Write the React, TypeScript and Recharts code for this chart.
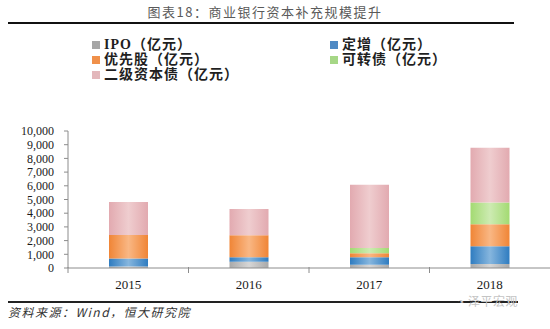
import React from 'react';
import { BarChart, Bar, XAxis, YAxis, Legend } from 'recharts';

const years = ['2015', '2016', '2017', '2018'];
const ipo = [110, 460, 230, 285];
const dingzeng = [590, 330, 560, 1310];
const preferred = [1700, 1600, 290, 1600];
const convertible = [0, 0, 380, 1585];
const tier2 = [2425, 1910, 4610, 4005];
const yTicks = [0, 1000, 2000, 3000, 4000, 5000, 6000, 7000, 8000, 9000, 10000];

const SERIES = [
  { key: 'ipo', label: 'IPO（亿元）', swatch: '#a6a6a6', edge: '#a9a9a9', mid: '#d6d6d6' },
  { key: 'dingzeng', label: '定增（亿元）', swatch: '#4f8ac4', edge: '#2f7cc0', mid: '#86b6de' },
  { key: 'preferred', label: '优先股（亿元）', swatch: '#f0904a', edge: '#f08536', mid: '#f9b784' },
  { key: 'convertible', label: '可转债（亿元）', swatch: '#a6d786', edge: '#a3da72', mid: '#cdebb2' },
  { key: 'tier2', label: '二级资本债（亿元）', swatch: '#e3b7bb', edge: '#e2aab0', mid: '#efcdcf' },
];

const data = years.map((year, i) => ({
  year,
  ipo: ipo[i],
  dingzeng: dingzeng[i],
  preferred: preferred[i],
  convertible: convertible[i],
  tier2: tier2[i],
}));

const serif = "'Liberation Serif', 'Noto Sans CJK SC', serif";
const cjk = "'Noto Sans CJK SC', sans-serif";

const CategoryTick = (props: any) => {
  const { x, y, payload } = props;
  const half = payload?.offset ?? 60;
  return (
    <g>
      <line x1={x - half} x2={x - half} y1={y - 1} y2={y + 5} stroke="#8c8c8c" />
      <text x={x} y={y + 21} textAnchor="middle" fontFamily={serif} fontSize={13} fill="#1a1a1a">
        {payload.value}
      </text>
    </g>
  );
};

const LegendBox = () => (
  <div
    style={{
      display: 'grid',
      gridTemplateColumns: '238px auto',
      rowGap: 0,
      fontFamily: serif,
      fontWeight: 'bold',
      fontSize: 14,
      letterSpacing: 1,
      color: '#1f1f1f',
      lineHeight: '15px',
    }}
  >
    {SERIES.map(s => (
      <div key={s.key} style={{ display: 'flex', alignItems: 'center' }}>
        <span style={{ width: 8, height: 8, background: s.swatch, marginRight: 4, display: 'inline-block' }} />
        <span>{s.label}</span>
      </div>
    ))}
  </div>
);

export default function App() {
  return (
    <div style={{ position: 'absolute', left: 0, top: 0, width: 550, height: 329, background: '#fff', overflow: 'hidden' }}>
      <div
        style={{
          position: 'absolute', left: 0, width: 530, top: 2, textAlign: 'center',
          fontFamily: cjk, fontSize: 13, letterSpacing: 1.5, color: '#5a5a5a',
        }}
      >
        图表18：商业银行资本补充规模提升
      </div>
      <div style={{ position: 'absolute', left: 8, top: 22, width: 506, height: 2, background: '#111' }} />

      <BarChart
        width={550}
        height={329}
        data={data}
        margin={{ top: 86, right: 0, left: 0, bottom: 30 }}
        barSize={39}
      >
        <Legend
          verticalAlign="top"
          content={<LegendBox />}
          wrapperStyle={{ position: 'absolute', top: 37, left: 92, width: 420 }}
        />
        <XAxis
          dataKey="year"
          height={31}
          axisLine={{ stroke: '#8c8c8c' }}
          tickLine={false}
          tickSize={0}
          tickMargin={0}
          tick={<CategoryTick />}
          interval={0}
        />
        <YAxis
          width={68}
          domain={[0, 10000]}
          ticks={yTicks}
          interval={0}
          axisLine={{ stroke: '#8c8c8c' }}
          tickLine={{ stroke: '#8c8c8c' }}
          tickSize={4}
          tickMargin={10}
          tick={{ fontFamily: serif, fontSize: 12, fill: '#1a1a1a' }}
          tickFormatter={(v: number) => v.toLocaleString('en-US')}
        />
        <defs>
          {SERIES.map(s => (
            <linearGradient key={s.key} id={`grad-${s.key}`} x1="0" y1="0" x2="1" y2="0">
              <stop offset="0%" stopColor={s.edge} />
              <stop offset="50%" stopColor={s.mid} />
              <stop offset="100%" stopColor={s.edge} />
            </linearGradient>
          ))}
        </defs>
        {SERIES.map(s => (
          <Bar key={s.key} dataKey={s.key} name={s.label} stackId="a" fill={`url(#grad-${s.key})`} isAnimationActive={false} />
        ))}
      </BarChart>

      <div style={{ position: 'absolute', left: 8, top: 301, width: 510, height: 1.5, background: '#222' }} />
      <div
        style={{
          position: 'absolute', left: 8, top: 303, fontFamily: cjk, fontStyle: 'italic',
          fontSize: 12, letterSpacing: 1.5, color: '#333',
        }}
      >
        资料来源：Wind，恒大研究院
      </div>
      <div
        style={{
          position: 'absolute', left: 457, top: 292, fontFamily: cjk, fontSize: 12,
          color: '#c4c4c4', letterSpacing: 0.5,
        }}
      >
        ◔ 泽平宏观
      </div>
    </div>
  );
}
